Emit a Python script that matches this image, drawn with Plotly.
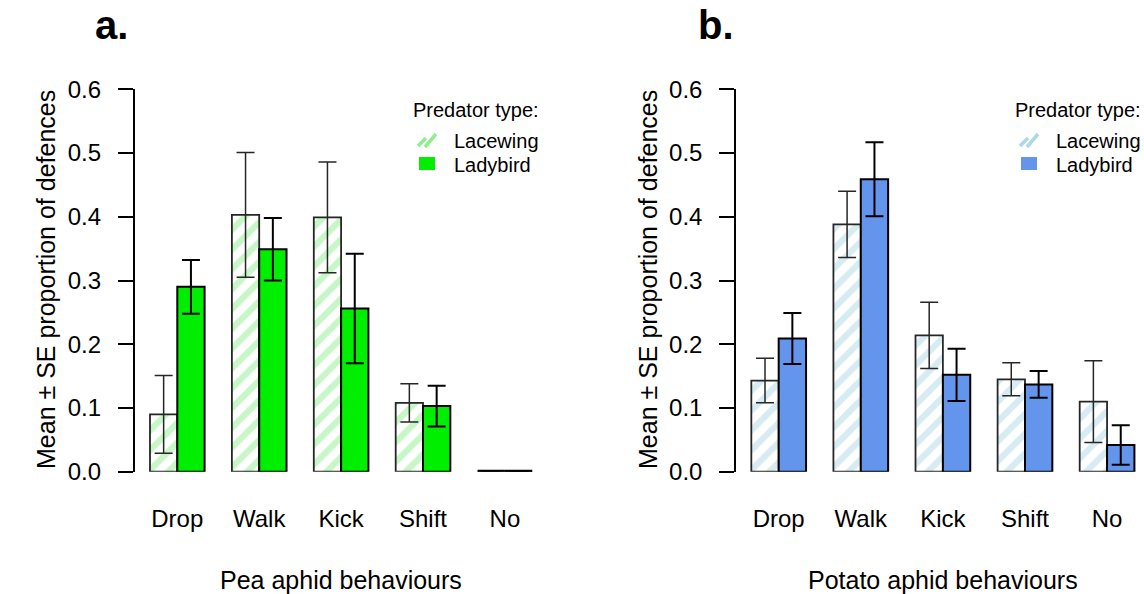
import plotly.graph_objects as go

# Defence behaviours shown on the x axis
behaviours = ["Drop", "Walk", "Kick", "Shift", "No"]

# Pea aphid: mean proportion of defences and SE, by predator type
# (None = no defences of that kind were seen, so no SE bar)
pea_lacewing = [0.090, 0.403, 0.399, 0.108, 0.0]
pea_lacewing_se = [0.061, 0.098, 0.087, 0.030, None]
pea_ladybird = [0.290, 0.349, 0.256, 0.103, 0.0]
pea_ladybird_se = [0.042, 0.049, 0.086, 0.032, None]

# Potato aphid: mean proportion of defences and SE, by predator type
potato_lacewing = [0.143, 0.388, 0.214, 0.145, 0.110]
potato_lacewing_se = [0.035, 0.052, 0.052, 0.026, 0.064]
potato_ladybird = [0.209, 0.459, 0.152, 0.137, 0.042]
potato_ladybird_se = [0.040, 0.058, 0.041, 0.021, 0.031]

y_ticks = [0.0, 0.1, 0.2, 0.3, 0.4, 0.5, 0.6]

FONT = "Arial, Liberation Sans, sans-serif"
W, H = 1144, 594
BAR_W = 1 / 3  # each bar is a third of a category slot; groups are separated by a third


def px_x(p):
    return p / W


def px_y(p):
    return 1 - p / H


panels = [
    dict(xa="x", ya="y", dx=0,
         lace=pea_lacewing, lace_se=pea_lacewing_se,
         lady=pea_ladybird, lady_se=pea_ladybird_se,
         solid="#00EE00", hatch="#90EE90"),
    dict(xa="x2", ya="y2", dx=602,
         lace=potato_lacewing, lace_se=potato_lacewing_se,
         lady=potato_ladybird, lady_se=potato_ladybird_se,
         solid="#6495ED", hatch="#ADD8E6"),
]

idx = list(range(len(behaviours)))

fig = go.Figure()

for p in panels:
    # hatched bars (lacewing), left of each pair
    fig.add_trace(go.Bar(
        x=idx, y=p["lace"], xaxis=p["xa"], yaxis=p["ya"],
        width=BAR_W, offset=-BAR_W, showlegend=False, cliponaxis=False,
        marker=dict(color="white",
                    pattern=dict(shape="/", fgcolor=p["hatch"], bgcolor="white",
                                 size=14, solidity=0.45, fillmode="overlay"),
                    line=dict(color="#262626", width=1.8)),
    ))
    # solid bars (ladybird), right of each pair
    fig.add_trace(go.Bar(
        x=idx, y=p["lady"], xaxis=p["xa"], yaxis=p["ya"],
        width=BAR_W, offset=0, showlegend=False, cliponaxis=False,
        marker=dict(color=p["solid"], line=dict(color="black", width=2)),
    ))
    # standard-error bars, centred on each bar
    fig.add_trace(go.Scatter(
        x=[i - BAR_W / 2 for i in idx], y=p["lace"], xaxis=p["xa"], yaxis=p["ya"],
        mode="markers", marker=dict(size=0.1, opacity=0), showlegend=False,
        cliponaxis=False,
        error_y=dict(type="data", array=p["lace_se"], visible=True,
                     color="#262626", thickness=1.5, width=9),
    ))
    fig.add_trace(go.Scatter(
        x=[i + BAR_W / 2 for i in idx], y=p["lady"], xaxis=p["xa"], yaxis=p["ya"],
        mode="markers", marker=dict(size=0.1, opacity=0), showlegend=False,
        cliponaxis=False,
        error_y=dict(type="data", array=p["lady_se"], visible=True,
                     color="black", thickness=2, width=9),
    ))
    # zero-height bars still show their outline along the baseline
    # (lines are clipped to the plot area, so half the stroke shows)
    seg_x, seg_y = [], []
    for i in idx:
        for val, off in ((p["lace"][i], -BAR_W), (p["lady"][i], 0)):
            if val == 0:
                seg_x += [i + off, i + off + BAR_W, None]
                seg_y += [0, 0, None]
    if seg_x:
        fig.add_trace(go.Scatter(
            x=seg_x, y=seg_y, xaxis=p["xa"], yaxis=p["ya"], mode="lines",
            line=dict(color="black", width=4), showlegend=False,
            hoverinfo="skip",
        ))

y_dom = [px_y(471.7), px_y(89.3)]

xaxis_common = dict(
    tickvals=idx, ticktext=behaviours, showline=False, ticks="",
    showgrid=False, zeroline=False, automargin=False,
    tickfont=dict(size=24, color="black", family=FONT), ticklabelstandoff=30,
)
yaxis_common = dict(
    range=[0, 0.6], tickvals=y_ticks, tickformat=".1f", showline=True,
    linecolor="black", linewidth=1.5, ticks="outside", ticklen=15,
    tickwidth=1.5, tickcolor="black", showgrid=False, zeroline=False,
    automargin=False,
    tickfont=dict(size=24, color="black", family=FONT), ticklabelstandoff=12,
)

fig.update_layout(
    width=W, height=H, margin=dict(l=0, r=0, t=0, b=0, autoexpand=False),
    paper_bgcolor="white", plot_bgcolor="white",
    barmode="overlay", showlegend=False,
    xaxis=dict(domain=[px_x(134.7), px_x(547.5)], range=[-0.52, 4.52],
               anchor="y", **xaxis_common),
    yaxis=dict(domain=y_dom, anchor="x", **yaxis_common),
    xaxis2=dict(domain=[px_x(736), 1.0], range=[-0.52, 4.45],
                anchor="y2", **xaxis_common),
    yaxis2=dict(domain=y_dom, anchor="x2", **yaxis_common),
)


def text(s, x, y, size, angle=0, xanchor="center", bold=False):
    fig.add_annotation(
        xref="paper", yref="paper", showarrow=False,
        x=px_x(x), y=px_y(y), xanchor=xanchor, yanchor="middle",
        text=f"<b>{s}</b>" if bold else s, textangle=angle,
        font=dict(size=size, color="black", family=FONT),
    )


# panel letters
text("a.", 111, 25, 40, bold=True)
text("b.", 716, 25, 40, bold=True)

# axis titles
text("Pea aphid behaviours", 341, 580, 25)
text("Potato aphid behaviours", 943, 580, 25)
text("Mean ± SE proportion of defences", 46, 280, 25, angle=-90)
text("Mean ± SE proportion of defences", 648, 280, 25, angle=-90)

# legends
for p in panels:
    dx = p["dx"]
    text("Predator type:", 411 + dx, 109.5, 20, xanchor="left")
    text("Lacewing", 452 + dx, 141, 20, xanchor="left")
    text("Ladybird", 452 + dx, 164.5, 20, xanchor="left")
    # hatched key: two short diagonal strokes
    for (x0, y0, x1, y1) in ((418, 146, 426, 138), (425, 147, 436, 134)):
        fig.add_shape(type="line", xref="paper", yref="paper",
                      x0=px_x(x0 + dx), y0=px_y(y0), x1=px_x(x1 + dx), y1=px_y(y1),
                      line=dict(color=p["hatch"], width=3.5))
    # solid key
    fig.add_shape(type="rect", xref="paper", yref="paper",
                  x0=px_x(419 + dx), y0=px_y(170), x1=px_x(435 + dx), y1=px_y(157),
                  fillcolor=p["solid"], line=dict(width=0))

fig.write_html("out.html")
